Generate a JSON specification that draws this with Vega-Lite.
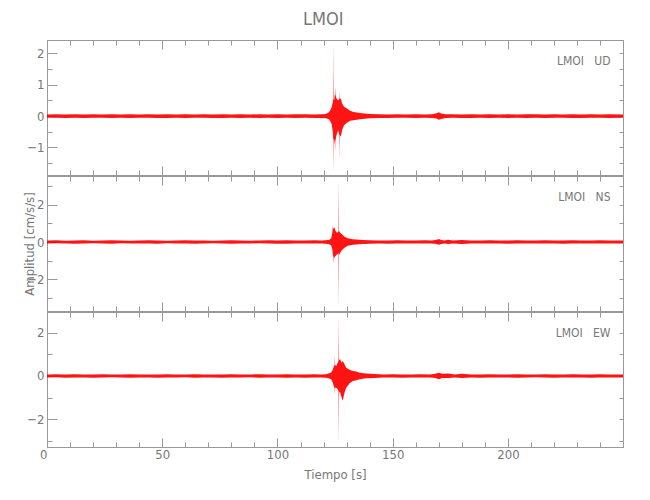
{
  "$schema": "https://vega.github.io/schema/vega-lite/v6.json",
  "padding": {"left": 22, "top": 11, "right": 5, "bottom": 5},
  "background": "white",
  "title": {"text": "LMOI", "fontSize": 18, "fontWeight": "normal", "color": "#777", "font": "DejaVu Sans Condensed", "anchor": "middle", "offset": 10},
  "spacing": -3,
  "datasets": {
    "ud": [
      {"t":0,"hi":0.05,"lo":-0.05},{"t":4,"hi":0.06,"lo":-0.05},{"t":8,"hi":0.05,"lo":-0.06},{"t":12,"hi":0.06,"lo":-0.05},{"t":16,"hi":0.05,"lo":-0.06},{"t":20,"hi":0.06,"lo":-0.05},{"t":24,"hi":0.05,"lo":-0.05},{"t":28,"hi":0.06,"lo":-0.06},{"t":32,"hi":0.05,"lo":-0.05},{"t":36,"hi":0.06,"lo":-0.06},{"t":40,"hi":0.05,"lo":-0.05},{"t":44,"hi":0.06,"lo":-0.05},{"t":48,"hi":0.05,"lo":-0.06},{"t":52,"hi":0.06,"lo":-0.06},{"t":56,"hi":0.05,"lo":-0.05},{"t":60,"hi":0.06,"lo":-0.06},{"t":64,"hi":0.05,"lo":-0.05},{"t":68,"hi":0.06,"lo":-0.05},{"t":72,"hi":0.05,"lo":-0.06},{"t":76,"hi":0.06,"lo":-0.06},{"t":80,"hi":0.05,"lo":-0.05},{"t":84,"hi":0.06,"lo":-0.06},{"t":88,"hi":0.05,"lo":-0.05},{"t":92,"hi":0.06,"lo":-0.06},{"t":96,"hi":0.05,"lo":-0.05},{"t":100,"hi":0.06,"lo":-0.06},{"t":104,"hi":0.05,"lo":-0.05},{"t":108,"hi":0.06,"lo":-0.06},{"t":112,"hi":0.06,"lo":-0.05},{"t":116,"hi":0.05,"lo":-0.06},{"t":119,"hi":0.06,"lo":-0.06},{"t":121,"hi":0.07,"lo":-0.07},{"t":122.3,"hi":0.12,"lo":-0.1},{"t":123.0,"hi":0.2,"lo":-0.18},{"t":123.5,"hi":0.28,"lo":-0.25},{"t":124.0,"hi":0.45,"lo":-0.5},{"t":124.1,"hi":0.5,"lo":-0.6},{"t":124.2,"hi":2.32,"lo":-1.76},{"t":124.3,"hi":0.55,"lo":-0.7},{"t":124.6,"hi":0.51,"lo":-0.77},{"t":124.9,"hi":0.7,"lo":-0.9},{"t":125.0,"hi":0.94,"lo":-1.09},{"t":125.1,"hi":0.7,"lo":-0.8},{"t":125.6,"hi":0.56,"lo":-0.61},{"t":126.3,"hi":0.5,"lo":-0.45},{"t":126.8,"hi":0.55,"lo":-0.6},{"t":126.9,"hi":0.75,"lo":-1.35},{"t":127.0,"hi":0.55,"lo":-0.6},{"t":127.5,"hi":0.56,"lo":-0.66},{"t":128.0,"hi":0.4,"lo":-0.45},{"t":128.9,"hi":0.3,"lo":-0.29},{"t":130.0,"hi":0.25,"lo":-0.22},{"t":131.5,"hi":0.17,"lo":-0.15},{"t":133,"hi":0.13,"lo":-0.13},{"t":135.8,"hi":0.1,"lo":-0.1},{"t":140,"hi":0.07,"lo":-0.07},{"t":144,"hi":0.06,"lo":-0.06},{"t":148,"hi":0.05,"lo":-0.06},{"t":152,"hi":0.06,"lo":-0.05},{"t":156,"hi":0.05,"lo":-0.05},{"t":160,"hi":0.06,"lo":-0.06},{"t":164,"hi":0.05,"lo":-0.05},{"t":167,"hi":0.06,"lo":-0.06},{"t":169,"hi":0.09,"lo":-0.08},{"t":170,"hi":0.12,"lo":-0.12},{"t":171,"hi":0.08,"lo":-0.09},{"t":173,"hi":0.06,"lo":-0.06},{"t":176,"hi":0.06,"lo":-0.05},{"t":180,"hi":0.05,"lo":-0.06},{"t":184,"hi":0.06,"lo":-0.06},{"t":188,"hi":0.05,"lo":-0.05},{"t":192,"hi":0.06,"lo":-0.06},{"t":196,"hi":0.05,"lo":-0.05},{"t":200,"hi":0.06,"lo":-0.06},{"t":204,"hi":0.05,"lo":-0.05},{"t":208,"hi":0.06,"lo":-0.06},{"t":212,"hi":0.06,"lo":-0.05},{"t":216,"hi":0.05,"lo":-0.06},{"t":220,"hi":0.06,"lo":-0.05},{"t":224,"hi":0.05,"lo":-0.05},{"t":228,"hi":0.06,"lo":-0.06},{"t":232,"hi":0.05,"lo":-0.06},{"t":236,"hi":0.06,"lo":-0.05},{"t":240,"hi":0.05,"lo":-0.05},{"t":244,"hi":0.06,"lo":-0.06},{"t":249.9,"hi":0.05,"lo":-0.05}
    ],
    "ns": [
      {"t":0,"hi":0.08,"lo":-0.08},{"t":4,"hi":0.09,"lo":-0.07},{"t":8,"hi":0.07,"lo":-0.08},{"t":12,"hi":0.08,"lo":-0.09},{"t":16,"hi":0.09,"lo":-0.08},{"t":20,"hi":0.07,"lo":-0.07},{"t":24,"hi":0.08,"lo":-0.08},{"t":28,"hi":0.09,"lo":-0.09},{"t":32,"hi":0.08,"lo":-0.07},{"t":36,"hi":0.07,"lo":-0.08},{"t":40,"hi":0.08,"lo":-0.08},{"t":44,"hi":0.09,"lo":-0.08},{"t":48,"hi":0.08,"lo":-0.09},{"t":52,"hi":0.07,"lo":-0.07},{"t":56,"hi":0.08,"lo":-0.08},{"t":60,"hi":0.09,"lo":-0.08},{"t":64,"hi":0.08,"lo":-0.09},{"t":68,"hi":0.08,"lo":-0.08},{"t":72,"hi":0.07,"lo":-0.07},{"t":76,"hi":0.08,"lo":-0.08},{"t":80,"hi":0.09,"lo":-0.09},{"t":84,"hi":0.08,"lo":-0.08},{"t":88,"hi":0.07,"lo":-0.08},{"t":92,"hi":0.08,"lo":-0.07},{"t":96,"hi":0.09,"lo":-0.08},{"t":100,"hi":0.08,"lo":-0.09},{"t":104,"hi":0.1,"lo":-0.09},{"t":108,"hi":0.08,"lo":-0.08},{"t":112,"hi":0.08,"lo":-0.08},{"t":116,"hi":0.09,"lo":-0.08},{"t":119,"hi":0.08,"lo":-0.08},{"t":121,"hi":0.09,"lo":-0.09},{"t":122.5,"hi":0.12,"lo":-0.12},{"t":123.3,"hi":0.2,"lo":-0.18},{"t":123.8,"hi":0.5,"lo":-0.4},{"t":124.0,"hi":0.85,"lo":-0.66},{"t":124.3,"hi":0.7,"lo":-0.8},{"t":124.5,"hi":0.75,"lo":-1.1},{"t":124.6,"hi":0.8,"lo":-0.84},{"t":125.2,"hi":0.59,"lo":-0.75},{"t":125.8,"hi":0.5,"lo":-0.66},{"t":126.4,"hi":0.55,"lo":-0.6},{"t":126.5,"hi":0.6,"lo":-0.7},{"t":126.6,"hi":3.3,"lo":-3.45},{"t":126.7,"hi":0.6,"lo":-0.7},{"t":127.2,"hi":0.5,"lo":-0.57},{"t":128.0,"hi":0.41,"lo":-0.43},{"t":129.1,"hi":0.28,"lo":-0.3},{"t":130.5,"hi":0.2,"lo":-0.2},{"t":132.7,"hi":0.15,"lo":-0.15},{"t":137,"hi":0.11,"lo":-0.11},{"t":140,"hi":0.09,"lo":-0.09},{"t":144,"hi":0.08,"lo":-0.08},{"t":148,"hi":0.08,"lo":-0.09},{"t":152,"hi":0.09,"lo":-0.08},{"t":156,"hi":0.08,"lo":-0.08},{"t":160,"hi":0.08,"lo":-0.08},{"t":164,"hi":0.09,"lo":-0.08},{"t":167,"hi":0.08,"lo":-0.08},{"t":169,"hi":0.12,"lo":-0.11},{"t":170,"hi":0.16,"lo":-0.15},{"t":171,"hi":0.11,"lo":-0.11},{"t":172.5,"hi":0.08,"lo":-0.08},{"t":174,"hi":0.12,"lo":-0.11},{"t":176,"hi":0.08,"lo":-0.08},{"t":180,"hi":0.11,"lo":-0.11},{"t":184,"hi":0.08,"lo":-0.08},{"t":188,"hi":0.08,"lo":-0.08},{"t":192,"hi":0.09,"lo":-0.08},{"t":196,"hi":0.08,"lo":-0.08},{"t":200,"hi":0.08,"lo":-0.09},{"t":204,"hi":0.09,"lo":-0.08},{"t":208,"hi":0.08,"lo":-0.08},{"t":212,"hi":0.08,"lo":-0.08},{"t":216,"hi":0.09,"lo":-0.08},{"t":220,"hi":0.08,"lo":-0.08},{"t":224,"hi":0.08,"lo":-0.09},{"t":228,"hi":0.09,"lo":-0.08},{"t":232,"hi":0.08,"lo":-0.08},{"t":236,"hi":0.08,"lo":-0.08},{"t":240,"hi":0.09,"lo":-0.08},{"t":244,"hi":0.08,"lo":-0.08},{"t":249.9,"hi":0.08,"lo":-0.08}
    ],
    "ew": [
      {"t":0,"hi":0.07,"lo":-0.07},{"t":4,"hi":0.08,"lo":-0.06},{"t":8,"hi":0.07,"lo":-0.08},{"t":12,"hi":0.08,"lo":-0.07},{"t":16,"hi":0.06,"lo":-0.07},{"t":20,"hi":0.07,"lo":-0.08},{"t":24,"hi":0.08,"lo":-0.07},{"t":28,"hi":0.07,"lo":-0.06},{"t":32,"hi":0.07,"lo":-0.07},{"t":36,"hi":0.08,"lo":-0.08},{"t":40,"hi":0.07,"lo":-0.07},{"t":44,"hi":0.06,"lo":-0.07},{"t":48,"hi":0.07,"lo":-0.08},{"t":52,"hi":0.08,"lo":-0.07},{"t":56,"hi":0.07,"lo":-0.07},{"t":60,"hi":0.07,"lo":-0.06},{"t":64,"hi":0.08,"lo":-0.08},{"t":68,"hi":0.07,"lo":-0.07},{"t":72,"hi":0.06,"lo":-0.07},{"t":76,"hi":0.07,"lo":-0.08},{"t":80,"hi":0.08,"lo":-0.07},{"t":84,"hi":0.07,"lo":-0.07},{"t":88,"hi":0.07,"lo":-0.06},{"t":92,"hi":0.08,"lo":-0.08},{"t":96,"hi":0.07,"lo":-0.07},{"t":100,"hi":0.07,"lo":-0.07},{"t":104,"hi":0.08,"lo":-0.08},{"t":108,"hi":0.07,"lo":-0.07},{"t":112,"hi":0.07,"lo":-0.08},{"t":116,"hi":0.08,"lo":-0.07},{"t":119,"hi":0.07,"lo":-0.07},{"t":121,"hi":0.08,"lo":-0.08},{"t":122.5,"hi":0.12,"lo":-0.12},{"t":123.3,"hi":0.16,"lo":-0.15},{"t":124.0,"hi":0.3,"lo":-0.31},{"t":124.5,"hi":0.45,"lo":-0.5},{"t":124.8,"hi":0.5,"lo":-0.55},{"t":124.9,"hi":0.95,"lo":-0.85},{"t":125.0,"hi":0.5,"lo":-0.55},{"t":125.5,"hi":0.46,"lo":-0.54},{"t":126.1,"hi":0.61,"lo":-0.62},{"t":126.5,"hi":0.7,"lo":-0.7},{"t":126.6,"hi":2.77,"lo":-3.11},{"t":126.7,"hi":0.75,"lo":-0.75},{"t":127.2,"hi":0.77,"lo":-0.77},{"t":127.8,"hi":0.61,"lo":-1.0},{"t":128.3,"hi":0.69,"lo":-1.15},{"t":129.1,"hi":0.54,"lo":-0.77},{"t":129.8,"hi":0.38,"lo":-0.54},{"t":131.3,"hi":0.28,"lo":-0.34},{"t":132.7,"hi":0.23,"lo":-0.23},{"t":134.2,"hi":0.2,"lo":-0.2},{"t":135.6,"hi":0.15,"lo":-0.15},{"t":138.5,"hi":0.11,"lo":-0.11},{"t":142,"hi":0.09,"lo":-0.09},{"t":146,"hi":0.07,"lo":-0.07},{"t":150,"hi":0.08,"lo":-0.07},{"t":154,"hi":0.07,"lo":-0.08},{"t":158,"hi":0.07,"lo":-0.07},{"t":162,"hi":0.08,"lo":-0.07},{"t":166,"hi":0.07,"lo":-0.07},{"t":168.5,"hi":0.1,"lo":-0.1},{"t":170,"hi":0.15,"lo":-0.15},{"t":171.5,"hi":0.1,"lo":-0.1},{"t":174,"hi":0.11,"lo":-0.1},{"t":177,"hi":0.07,"lo":-0.07},{"t":180,"hi":0.1,"lo":-0.09},{"t":184,"hi":0.07,"lo":-0.07},{"t":188,"hi":0.07,"lo":-0.08},{"t":192,"hi":0.08,"lo":-0.07},{"t":196,"hi":0.07,"lo":-0.07},{"t":200,"hi":0.07,"lo":-0.07},{"t":204,"hi":0.08,"lo":-0.08},{"t":208,"hi":0.07,"lo":-0.07},{"t":212,"hi":0.07,"lo":-0.06},{"t":216,"hi":0.08,"lo":-0.07},{"t":220,"hi":0.07,"lo":-0.08},{"t":224,"hi":0.07,"lo":-0.07},{"t":228,"hi":0.08,"lo":-0.07},{"t":232,"hi":0.07,"lo":-0.07},{"t":236,"hi":0.07,"lo":-0.08},{"t":240,"hi":0.08,"lo":-0.07},{"t":244,"hi":0.07,"lo":-0.07},{"t":249.9,"hi":0.07,"lo":-0.07}
    ]
  },
  "vconcat": [
    {
      "width": 576, "height": 135,
      "data": {"name": "ud"},
      "title": {"text": "LMOI\u00a0\u00a0\u00a0UD", "anchor": "end", "orient": "top", "offset": -28, "dx": -13, "fontSize": 12, "fontWeight": "normal", "color": "#777", "font": "DejaVu Sans Condensed"},
      "layer": [
        {
          "mark": {"type": "area", "color": "#ff0000", "opacity": 0.92},
          "encoding": {
            "x": {"field": "t", "type": "quantitative", "scale": {"domain": [0, 249.9], "nice": false, "zero": false},
                  "axis": {"orient": "bottom", "values": [0,10,20,30,40,50,60,70,80,90,100,110,120,130,140,150,160,170,180,190,200,210,220,230,240], "labels": false, "title": null, "tickSize": {"condition": {"test": "datum.value % 50 === 0", "value": -9}, "value": -5}}},
            "y": {"field": "hi", "type": "quantitative", "scale": {"domain": [-1.88, 2.43], "nice": false, "zero": false},
                  "axis": {"orient": "left", "values": [-1.5,-1,-0.5,0,0.5,1,1.5,2], "labelExpr": "datum.value % 1 === 0 ? format(datum.value, 'd') : ''", "title": null, "tickSize": {"condition": {"test": "datum.value % 1 === 0", "value": -10}, "value": -5}, "labelPadding": 13}},
            "y2": {"field": "lo"}
          }
        },
        {
          "mark": {"type": "area", "opacity": 0},
          "encoding": {
            "x": {"field": "t", "type": "quantitative", "axis": {"orient": "top", "values": [0,10,20,30,40,50,60,70,80,90,100,110,120,130,140,150,160,170,180,190,200,210,220,230,240], "labels": false, "title": null, "tickSize": {"condition": {"test": "datum.value % 50 === 0", "value": -9}, "value": -5}}},
            "y": {"field": "hi", "type": "quantitative", "axis": {"orient": "right", "values": [-1.5,-1,-0.5,0,0.5,1,1.5,2], "labels": false, "title": null, "tickSize": -4}},
            "y2": {"field": "lo"}
          }
        }
      ],
      "resolve": {"axis": {"x": "independent", "y": "independent"}}
    },
    {
      "width": 576, "height": 135,
      "data": {"name": "ns"},
      "title": {"text": "LMOI\u00a0\u00a0\u00a0NS", "anchor": "end", "orient": "top", "offset": -28, "dx": -13, "fontSize": 12, "fontWeight": "normal", "color": "#777", "font": "DejaVu Sans Condensed"},
      "layer": [
        {
          "mark": {"type": "area", "color": "#ff0000", "opacity": 0.92},
          "encoding": {
            "x": {"field": "t", "type": "quantitative", "scale": {"domain": [0, 249.9], "nice": false, "zero": false},
                  "axis": {"orient": "bottom", "values": [0,10,20,30,40,50,60,70,80,90,100,110,120,130,140,150,160,170,180,190,200,210,220,230,240], "labels": false, "title": null, "tickSize": {"condition": {"test": "datum.value % 50 === 0", "value": -9}, "value": -5}}},
            "y": {"field": "hi", "type": "quantitative", "scale": {"domain": [-3.68, 3.52], "nice": false, "zero": false},
                  "axis": {"orient": "left", "values": [-3,-2,-1,0,1,2,3], "labelExpr": "datum.value % 2 === 0 ? format(datum.value, 'd') : ''", "title": "Amplitud [cm/s/s]", "titleX": -11, "tickSize": {"condition": {"test": "datum.value % 2 === 0", "value": -10}, "value": -5}, "labelPadding": 13}},
            "y2": {"field": "lo"}
          }
        },
        {
          "mark": {"type": "area", "opacity": 0},
          "encoding": {
            "x": {"field": "t", "type": "quantitative", "axis": {"orient": "top", "values": [0,10,20,30,40,50,60,70,80,90,100,110,120,130,140,150,160,170,180,190,200,210,220,230,240], "labels": false, "title": null, "tickSize": {"condition": {"test": "datum.value % 50 === 0", "value": -9}, "value": -5}}},
            "y": {"field": "hi", "type": "quantitative", "axis": {"orient": "right", "values": [-3,-2,-1,0,1,2,3], "labels": false, "title": null, "tickSize": -4}},
            "y2": {"field": "lo"}
          }
        }
      ],
      "resolve": {"axis": {"x": "independent", "y": "independent"}}
    },
    {
      "width": 576, "height": 135,
      "data": {"name": "ew"},
      "title": {"text": "LMOI\u00a0\u00a0\u00a0EW", "anchor": "end", "orient": "top", "offset": -28, "dx": -13, "fontSize": 12, "fontWeight": "normal", "color": "#777", "font": "DejaVu Sans Condensed"},
      "layer": [
        {
          "mark": {"type": "area", "color": "#ff0000", "opacity": 0.92},
          "encoding": {
            "x": {"field": "t", "type": "quantitative", "scale": {"domain": [0, 249.9], "nice": false, "zero": false},
                  "axis": {"orient": "bottom", "values": [0,10,20,30,40,50,60,70,80,90,100,110,120,130,140,150,160,170,180,190,200,210,220,230,240], "labelExpr": "datum.value % 50 === 0 ? datum.label : ''", "labelAlign": {"condition": {"test": "datum.value === 0", "value": "right"}, "value": "center"}, "labelPadding": 10, "title": "Tiempo [s]", "titlePadding": 3, "tickSize": {"condition": {"test": "datum.value % 50 === 0", "value": -9}, "value": -5}}},
            "y": {"field": "hi", "type": "quantitative", "scale": {"domain": [-3.28, 2.95], "nice": false, "zero": false},
                  "axis": {"orient": "left", "values": [-3,-2,-1,0,1,2], "labelExpr": "datum.value % 2 === 0 ? format(datum.value, 'd') : ''", "title": null, "tickSize": {"condition": {"test": "datum.value % 2 === 0", "value": -10}, "value": -5}, "labelPadding": 13}},
            "y2": {"field": "lo"}
          }
        },
        {
          "mark": {"type": "area", "opacity": 0},
          "encoding": {
            "x": {"field": "t", "type": "quantitative", "axis": {"orient": "top", "values": [0,10,20,30,40,50,60,70,80,90,100,110,120,130,140,150,160,170,180,190,200,210,220,230,240], "labels": false, "title": null, "tickSize": {"condition": {"test": "datum.value % 50 === 0", "value": -9}, "value": -5}}},
            "y": {"field": "hi", "type": "quantitative", "axis": {"orient": "right", "values": [-3,-2,-1,0,1,2], "labels": false, "title": null, "tickSize": -4}},
            "y2": {"field": "lo"}
          }
        }
      ],
      "resolve": {"axis": {"x": "independent", "y": "independent"}}
    }
  ],
  "config": {
    "font": "DejaVu Sans Condensed",
    "view": {"stroke": "#999", "strokeWidth": 1},
    "axis": {"domainColor": "#999", "tickColor": "#999", "labelColor": "#777", "titleColor": "#777", "labelFont": "DejaVu Sans Condensed", "titleFont": "DejaVu Sans Condensed", "labelFontSize": 13, "titleFontSize": 13, "titleFontWeight": "normal", "grid": false, "labelOverlap": false}
  }
}
